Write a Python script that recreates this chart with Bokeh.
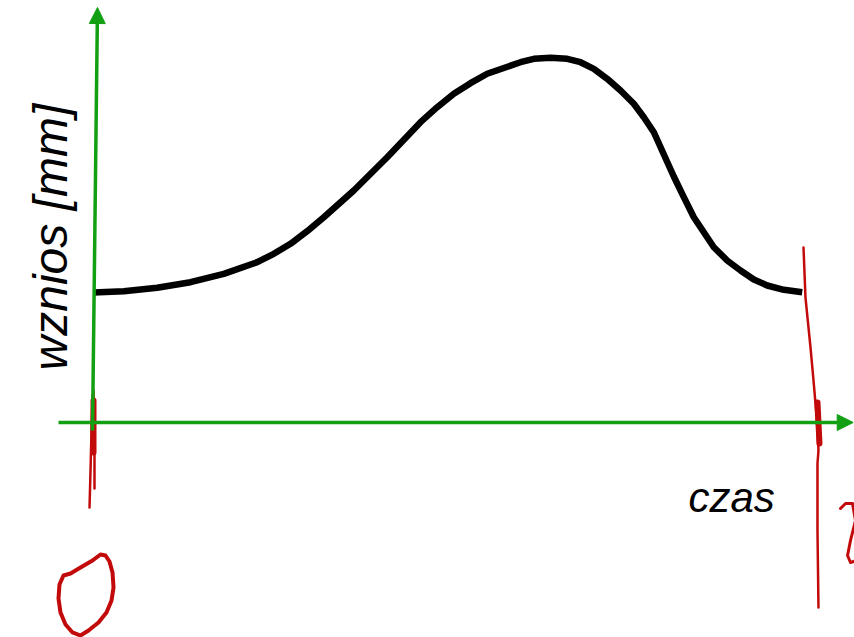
import math
from bokeh.plotting import figure
from bokeh.models import Range1d, Arrow, NormalHead
from bokeh.core.properties import value
from bokeh.embed import file_html
from bokeh.resources import INLINE

# ---- data: valve lift curve (time units, lift in mm) ----
time = [0.0, 0.427, 0.897, 1.366, 1.835, 2.306, 2.539, 2.775, 3.010, 3.244, 3.666, 4.137,
        4.606, 4.841, 5.075, 5.310, 5.545, 6.014, 6.202, 6.437, 6.672, 6.859, 7.047, 7.235,
        7.423, 7.610, 7.751, 7.892, 8.173, 8.314, 8.455, 8.737, 8.925, 9.113, 9.300, 9.489,
        9.723, 9.982]
lift = [3.571, 3.607, 3.701, 3.854, 4.085, 4.404, 4.635, 4.909, 5.256, 5.640, 6.374, 7.288,
        8.250, 8.662, 9.030, 9.322, 9.580, 9.898, 9.992, 10.019, 9.992, 9.898, 9.717, 9.442,
        9.121, 8.755, 8.388, 7.975, 6.758, 6.190, 5.640, 4.816, 4.451, 4.176, 3.929, 3.764,
        3.646, 3.580]

# ---- axes (arrows) ----
yaxis_x = [-0.014, 0.056]
yaxis_y = [-0.22, 11.40]
xaxis_x = [-0.493, 10.70]
xaxis_y = [0.0, 0.0]

# ---- hand-drawn red annotations (data units) ----
left_stroke1_x = [0.0, 0.014, 0.014, 0.014]
left_stroke1_y = [0.879, 0.055, -0.769, -1.813]
left_stroke2_x = [-0.014, -0.028, -0.042, -0.056]
left_stroke2_y = [0.742, -0.220, -1.319, -2.335]
left_blob_x = [0.0, 0.0]
left_blob_y = [0.604, -0.824]

zero_x = [-0.324, -0.183, -0.014, 0.099, 0.169, 0.225, 0.268, 0.282, 0.254, 0.183, 0.070,
          -0.070, -0.183, -0.296, -0.394, -0.465, -0.493, -0.479, -0.423, -0.324]
zero_y = [-4.148, -3.984, -3.791, -3.626, -3.654, -3.819, -4.121, -4.533, -4.890, -5.220, -5.495,
          -5.714, -5.852, -5.769, -5.549, -5.220, -4.835, -4.451, -4.203, -4.148]

right_stroke_x = [10.0, 10.028, 10.099, 10.141, 10.169, 10.197, 10.211, 10.197, 10.197, 10.211]
right_stroke_y = [4.808, 3.434, 2.060, 1.154, 0.522, -0.220, -0.769, -1.126, -2.967, -5.082]
right_blob_x = [10.197, 10.225]
right_blob_y = [0.549, -0.577]

two_x = [10.521, 10.592, 10.690, 10.732, 10.662, 10.620, 10.662, 10.746]
two_y = [-2.363, -2.225, -2.225, -2.692, -3.242, -3.654, -3.846, -3.791]

# ---- labels ----
xlabel = "czas"
ylabel = "wznios [mm]"
xlabel_pos = (8.38, -2.06)
ylabel_pos = (-0.606, 1.429)

GREEN = "#12a012"
RED = "#c20a0a"

p = figure(width=854, height=637,
           x_range=Range1d(-1.30986, 10.71831), y_range=Range1d(-5.9066, 11.5934),
           x_axis_type=None, y_axis_type=None,
           output_backend="svg", toolbar_location=None,
           min_border=0, min_border_left=0, min_border_right=0,
           min_border_top=0, min_border_bottom=0)
p.grid.visible = False
p.outline_line_color = None
p.background_fill_color = "white"
p.border_fill_color = "white"

# green axes with arrow heads
p.add_layout(Arrow(x_start=yaxis_x[0], y_start=yaxis_y[0], x_end=yaxis_x[1], y_end=yaxis_y[1],
                   line_color=GREEN, line_width=3.5,
                   end=NormalHead(size=16, fill_color=GREEN, line_color=GREEN, line_width=1)))
p.add_layout(Arrow(x_start=xaxis_x[0], y_start=xaxis_y[0], x_end=xaxis_x[1], y_end=xaxis_y[1],
                   line_color=GREEN, line_width=3.5,
                   end=NormalHead(size=16, fill_color=GREEN, line_color=GREEN, line_width=1)))

# lift curve
p.line(time, lift, line_color="black", line_width=6.5, line_join="round", line_cap="butt")

# red annotations
p.multi_line([left_stroke1_x, left_stroke2_x, zero_x, right_stroke_x, two_x],
             [left_stroke1_y, left_stroke2_y, zero_y, right_stroke_y, two_y],
             line_color=RED, line_width=[2.5, 2.5, 4, 2.5, 3], line_cap="round", line_join="round")
p.multi_line([left_blob_x, right_blob_x], [left_blob_y, right_blob_y],
             line_color=RED, line_width=6, line_cap="round")

# labels
p.text(x=[xlabel_pos[0]], y=[xlabel_pos[1]], text=[xlabel],
       text_font=value("Liberation Sans"), text_font_style="italic",
       text_font_size="42px", text_color="black",
       text_align="left", text_baseline="alphabetic")
p.text(x=[ylabel_pos[0]], y=[ylabel_pos[1]], text=[ylabel], angle=math.pi / 2,
       text_font=value("Liberation Sans"), text_font_style="italic",
       text_font_size="48px", text_color="black",
       text_align="left", text_baseline="alphabetic")

open("out.html", "w").write(file_html(p, INLINE))
